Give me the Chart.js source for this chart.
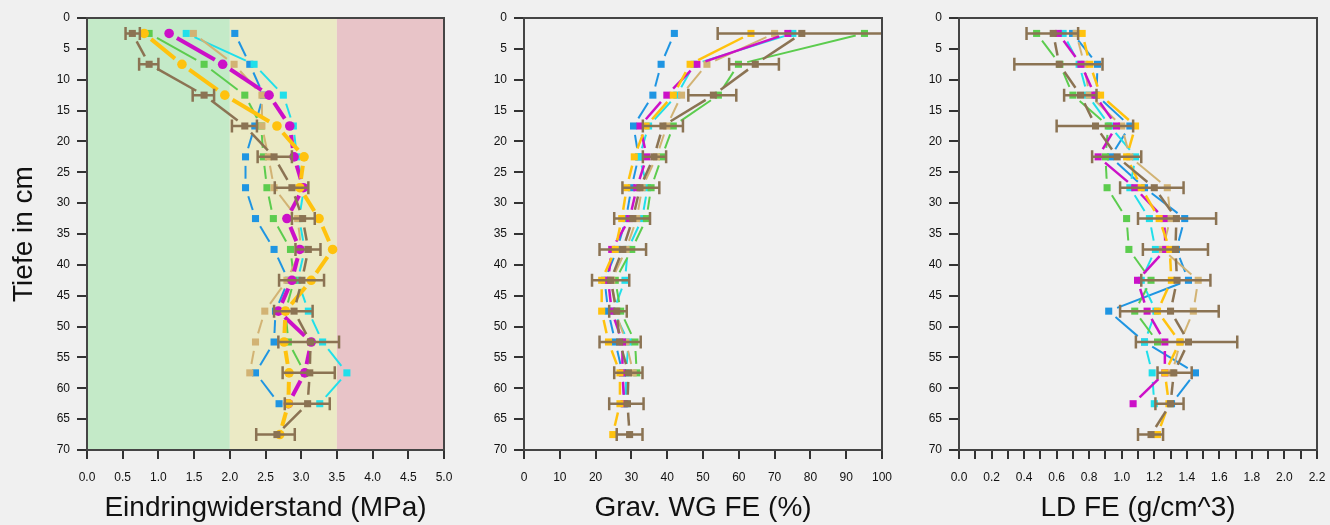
<!DOCTYPE html>
<html>
<head>
<meta charset="utf-8">
<script src="https://cdn.jsdelivr.net/npm/chart.js@4/dist/chart.umd.min.js"></script>
<style>
  html, body { margin: 0; padding: 0; background: #f0f0f0; }
  #wrap { position: relative; width: 1330px; height: 525px; background: #f0f0f0; overflow: hidden; }
  canvas { position: absolute; top: 0; }
</style>
</head>
<body>
<div id="wrap">
  <canvas id="c1" width="460" height="525" style="left:0px"></canvas>
  <canvas id="c2" width="435" height="525" style="left:460px"></canvas>
  <canvas id="c3" width="435" height="525" style="left:895px"></canvas>
</div>
<script>
// ---------- data ----------
const depths = [2.5, 7.5, 12.5, 17.5, 22.5, 27.5, 32.5, 37.5, 42.5, 47.5, 52.5, 57.5, 62.5, 67.5];
const depthTicks = [0, 5, 10, 15, 20, 25, 30, 35, 40, 45, 50, 55, 60, 65, 70];

// Panel 1: Eindringwiderstand (MPa)
const ewTickValues = [0, 0.5, 1, 1.5, 2, 2.5, 3, 3.5, 4, 4.5, 5];
const ewTickLabels = ['0.0','0.5','1.0','1.5','2.0','2.5','3.0','3.5','4.0','4.5','5.0'];
const ewBandLimits = [0, 2, 3.5, 5];
const ewBlue    = [2.07, 2.28, 2.47, 2.35, 2.22, 2.22, 2.36, 2.62, 2.82, 2.64, 2.62, 2.36, 2.69, null];
const ewCyan    = [1.39, 2.34, 2.75, 2.89, 2.94, 3.04, 2.97, 3.05, 2.95, 3.10, 3.30, 3.64, 3.26, null];
const ewGreen   = [0.87, 1.64, 2.21, 2.44, 2.47, 2.52, 2.61, 2.85, 2.90, 2.78, 2.82, 3.05, null, null];
const ewTan     = [1.49, 2.06, 2.45, 2.45, 2.54, 2.62, 2.95, 3.00, 2.80, 2.49, 2.36, 2.28, null, null];
const ewMagenta = [1.15, 1.90, 2.55, 2.84, 2.90, 3.03, 2.80, 2.98, 2.87, 2.68, 3.14, 3.05, 2.82, null];
const ewGold    = [0.80, 1.33, 1.93, 2.66, 3.04, 2.98, 3.25, 3.44, 3.14, 2.78, 2.76, 2.83, 2.82, 2.70];
const ewBrown   = [0.635, 0.87, 1.64, 2.21, 2.62, 2.87, 3.02, 3.10, 3.01, 2.90, 3.13, 3.12, 3.09, 2.66];
const ewBrownLo = [0.54, 0.73, 1.48, 2.03, 2.39, 2.63, 2.87, 2.92, 2.69, 2.62, 2.68, 2.74, 2.77, 2.37];
const ewBrownHi = [0.74, 1.00, 1.78, 2.38, 2.87, 3.10, 3.19, 3.27, 3.32, 3.16, 3.53, 3.47, 3.40, 2.91];

// Panel 2: Grav. WG FE (%)
const wgTickValues = [0, 10, 20, 30, 40, 50, 60, 70, 80, 90, 100];
const wgTickLabels = ['0','10','20','30','40','50','60','70','80','90','100'];
const wgBlue    = [42.0, 38.3, 36.0, 30.6, 32.0, 30.0, 28.5, 26.0, 22.5, 23.5, 25.5, 27.5, 28.0, null];
const wgCyan    = [75.1, 47.5, 42.7, 34.8, 32.2, 34.5, 33.0, 29.0, 28.2, 25.0, 29.2, 28.5, 28.5, null];
const wgGreen   = [95.1, 59.9, 54.3, 41.7, 38.5, 35.5, 34.2, 30.1, 25.5, 27.0, 31.0, 31.5, null, null];
const wgTan     = [70.0, 51.1, 44.0, 39.9, 37.0, 33.0, 31.5, 28.5, 24.5, 25.5, 28.5, 30.5, null, null];
const wgMagenta = [73.7, 48.3, 39.9, 32.4, 34.3, 31.5, 29.5, 24.5, 23.5, 24.5, 27.5, 27.5, 28.0, null];
const wgGold    = [63.4, 46.4, 41.7, 34.1, 30.8, 28.7, 27.3, 25.5, 21.7, 21.7, 23.6, 26.8, 26.8, 24.8];
const wgBrown   = [77.6, 64.6, 52.9, 38.8, 36.3, 32.4, 30.4, 27.6, 24.2, 25.9, 26.7, 29.2, 28.9, 29.5];
const wgBrownLo = [54.1, 57.3, 45.9, 33.2, 33.2, 27.5, 25.2, 21.1, 19.0, 23.8, 21.1, 25.2, 23.8, 25.9];
const wgBrownHi = [102, 71.2, 59.3, 44.4, 39.7, 37.8, 35.2, 34.1, 29.4, 28.7, 32.6, 33.1, 33.4, 33.1];

// Panel 3: LD FE (g/cm^3)
const ldTickValues = [0,0.1,0.2,0.3,0.4,0.5,0.6,0.7,0.8,0.9,1.0,1.1,1.2,1.3,1.4,1.5,1.6,1.7,1.8,1.9,2.0,2.1,2.2];
const ldTickLabels = ['0.0','','0.2','','0.4','','0.6','','0.8','','1.0','','1.2','','1.4','','1.6','','1.8','','2.0','','2.2'];
const ldBlue    = [0.698, 0.851, 0.845, 1.05, 0.931, 1.14, 1.387, 1.336, 1.41, 0.92, 1.14, 1.453, 1.306, null];
const ldCyan    = [0.64, 0.738, 0.79, 0.927, 1.085, 1.05, 1.17, 1.207, 1.12, 1.21, 1.14, 1.187, 1.20, null];
const ldGreen   = [0.477, 0.62, 0.70, 0.917, 0.90, 0.91, 1.03, 1.044, 1.18, 1.08, 1.22, null, null, null];
const ldTan     = [0.72, 0.77, 0.80, 1.00, 1.05, 1.28, 1.30, 1.25, 1.47, 1.44, 1.36, 1.31, null, null];
const ldMagenta = [0.61, 0.749, 0.835, 0.968, 0.855, 1.08, 1.26, 1.27, 1.097, 1.156, 1.265, 1.265, 1.07, null];
const ldGold    = [0.757, 0.804, 0.87, 1.085, 1.03, 1.12, 1.23, 1.295, 1.305, 1.22, 1.357, 1.265, 1.29, 1.22];
const ldBrown   = [0.579, 0.616, 0.747, 0.839, 0.972, 1.20, 1.336, 1.33, 1.34, 1.30, 1.41, 1.32, 1.30, 1.18];
const ldBrownLo = [0.415, 0.34, 0.646, 0.60, 0.818, 0.99, 1.10, 1.13, 1.12, 0.99, 1.087, 1.22, 1.207, 1.10];
const ldBrownHi = [0.732, 0.882, 0.845, 1.07, 1.12, 1.38, 1.58, 1.53, 1.545, 1.596, 1.71, 1.43, 1.38, 1.254];

// ---------- styles ----------
const FONT = "'Liberation Sans', Arial, sans-serif";
const COL = {
  blue: '#1f95e2', cyan: '#20dfea', green: '#5ccc4e', tan: '#d2b374',
  magenta: '#cc10c8', gold: '#ffc20e', brown: '#8b7353'
};
const BANDS = ['#c4eac8', '#ebeac5', '#e8c4c8'];
const GAP = 9;

function toPts(vals) {
  const out = [];
  vals.forEach((v, i) => { if (v !== null) out.push({ x: v, y: depths[i] }); });
  return out;
}

const gapSegment = {
  borderDash: c => {
    const L = Math.hypot(c.p1.x - c.p0.x, c.p1.y - c.p0.y);
    return L > 2 * GAP ? [0, GAP, L - 2 * GAP, 100000] : [0, 100000];
  },
  borderDashOffset: c => c.p0DataIndex * 1e-4
};

function ds(vals, color, width, order, style, radius) {
  return {
    data: toPts(vals),
    borderColor: color,
    backgroundColor: color,
    borderWidth: width,
    borderCapStyle: 'butt',
    pointStyle: style || 'rect',
    pointRadius: radius || 5,
    pointBorderWidth: 0,
    pointBackgroundColor: color,
    pointBorderColor: color,
    order: order,
    tension: 0,
    fill: false,
    segment: gapSegment
  };
}

const framePlugin = {
  id: 'frame',
  afterDraw(chart) {
    const { ctx, chartArea: a } = chart;
    ctx.save();
    ctx.strokeStyle = '#454545';
    ctx.lineWidth = 2;
    ctx.strokeRect(a.left, a.top, a.right - a.left, a.bottom - a.top);
    ctx.restore();
  }
};

const bandPlugin = {
  id: 'bands',
  beforeDatasetsDraw(chart, args, opts) {
    if (!opts || !opts.limits) return;
    const { ctx, chartArea: a, scales: { x } } = chart;
    ctx.save();
    for (let i = 0; i < opts.limits.length - 1; i++) {
      const x0 = x.getPixelForValue(opts.limits[i]);
      const x1 = x.getPixelForValue(opts.limits[i + 1]);
      ctx.fillStyle = opts.colors[i];
      ctx.fillRect(x0, a.top, x1 - x0, a.bottom - a.top);
    }
    ctx.restore();
  }
};

const errPlugin = {
  id: 'errbars',
  afterDatasetsDraw(chart, args, opts) {
    if (!opts || !opts.lo) return;
    const { ctx, chartArea: a, scales: { x, y } } = chart;
    ctx.save();
    ctx.beginPath();
    ctx.rect(a.left, a.top, a.right - a.left, a.bottom - a.top);
    ctx.clip();
    ctx.strokeStyle = opts.color;
    ctx.lineWidth = 2.5;
    ctx.lineCap = 'butt';
    opts.lo.forEach((lo, i) => {
      const hi = opts.hi[i];
      if (lo === null || hi === null) return;
      const py = y.getPixelForValue(depths[i]);
      const p0 = x.getPixelForValue(lo), p1 = x.getPixelForValue(hi);
      ctx.beginPath();
      ctx.moveTo(p0, py); ctx.lineTo(p1, py);
      ctx.moveTo(p0, py - 6.5); ctx.lineTo(p0, py + 6.5);
      ctx.moveTo(p1, py - 6.5); ctx.lineTo(p1, py + 6.5);
      ctx.stroke();
    });
    ctx.restore();
  }
};

function makeChart(id, cfg) {
  const tickFont = { size: 12, family: FONT };
  const xScale = {
    type: 'linear',
    min: cfg.xTicks[0],
    max: cfg.xTicks[cfg.xTicks.length - 1],
    afterBuildTicks: s => { s.ticks = cfg.xTicks.map(v => ({ value: v })); },
    afterFit: s => { s.height = 75; s.paddingLeft = 0; s.paddingRight = 0; },
    ticks: {
      autoSkip: false, maxRotation: 0, minRotation: 0, padding: 11,
      font: tickFont, color: '#111',
      callback: (v, i) => cfg.xLabels[i]
    },
    grid: { drawOnChartArea: false, drawTicks: true, tickLength: 9, color: '#333', lineWidth: 2 },
    border: { display: false },
    title: { display: true, text: cfg.xTitle, font: { size: 28, family: FONT }, color: '#111', padding: { top: 0, bottom: 0 } }
  };
  const yScale = {
    type: 'linear',
    reverse: true,
    min: depthTicks[0],
    max: depthTicks[depthTicks.length - 1],
    afterBuildTicks: s => { s.ticks = depthTicks.map(v => ({ value: v })); },
    afterFit: s => { s.width = cfg.yWidth; },
    ticks: { autoSkip: false, padding: 7, font: tickFont, color: '#111', callback: (v) => String(v) },
    grid: { drawOnChartArea: false, drawTicks: true, tickLength: 10, color: '#333', lineWidth: 2 },
    border: { display: false },
    title: { display: !!cfg.yTitle, text: cfg.yTitle || '', font: { size: 28, family: FONT }, color: '#111', padding: { top: 7, bottom: 0 } }
  };
  const thick = cfg.thick;
  const datasets = [
    ds(cfg.s.blue, COL.blue, 2, 6),
    ds(cfg.s.cyan, COL.cyan, 2, 5),
    ds(cfg.s.green, COL.green, 2, 4),
    ds(cfg.s.tan, COL.tan, 2, 3),
    ds(cfg.s.magenta, COL.magenta, thick ? 4 : 2.5, 2, thick ? 'circle' : 'rect', thick ? 4.8 : 5),
    ds(cfg.s.gold, COL.gold, thick ? 4 : 2.5, 1, thick ? 'circle' : 'rect', thick ? 4.8 : 5),
    ds(cfg.s.brown, COL.brown, 2.5, 0)
  ];
  return new Chart(document.getElementById(id), {
    type: 'line',
    data: { datasets },
    options: {
      responsive: false,
      devicePixelRatio: 1,
      animation: false,
      events: [],
      layout: { padding: { left: 0, top: 18, right: cfg.padRight, bottom: 0 } },
      scales: { x: xScale, y: yScale },
      plugins: {
        legend: { display: false },
        tooltip: { enabled: false },
        bands: cfg.bands || {},
        errbars: { lo: cfg.lo, hi: cfg.hi, color: COL.brown }
      }
    },
    plugins: [bandPlugin, errPlugin, framePlugin]
  });
}

makeChart('c1', {
  xTicks: ewTickValues, xLabels: ewTickLabels, xTitle: 'Eindringwiderstand (MPa)',
  yTitle: 'Tiefe in cm', yWidth: 87, padRight: 16, thick: true,
  bands: { limits: ewBandLimits, colors: BANDS },
  s: { blue: ewBlue, cyan: ewCyan, green: ewGreen, tan: ewTan, magenta: ewMagenta, gold: ewGold, brown: ewBrown },
  lo: ewBrownLo, hi: ewBrownHi
});
makeChart('c2', {
  xTicks: wgTickValues, xLabels: wgTickLabels, xTitle: 'Grav. WG FE (%)',
  yWidth: 64, padRight: 13, thick: false,
  s: { blue: wgBlue, cyan: wgCyan, green: wgGreen, tan: wgTan, magenta: wgMagenta, gold: wgGold, brown: wgBrown },
  lo: wgBrownLo, hi: wgBrownHi
});
makeChart('c3', {
  xTicks: ldTickValues, xLabels: ldTickLabels, xTitle: 'LD FE (g/cm^3)',
  yWidth: 64, padRight: 13, thick: false,
  s: { blue: ldBlue, cyan: ldCyan, green: ldGreen, tan: ldTan, magenta: ldMagenta, gold: ldGold, brown: ldBrown },
  lo: ldBrownLo, hi: ldBrownHi
});
</script>
</body>
</html>
